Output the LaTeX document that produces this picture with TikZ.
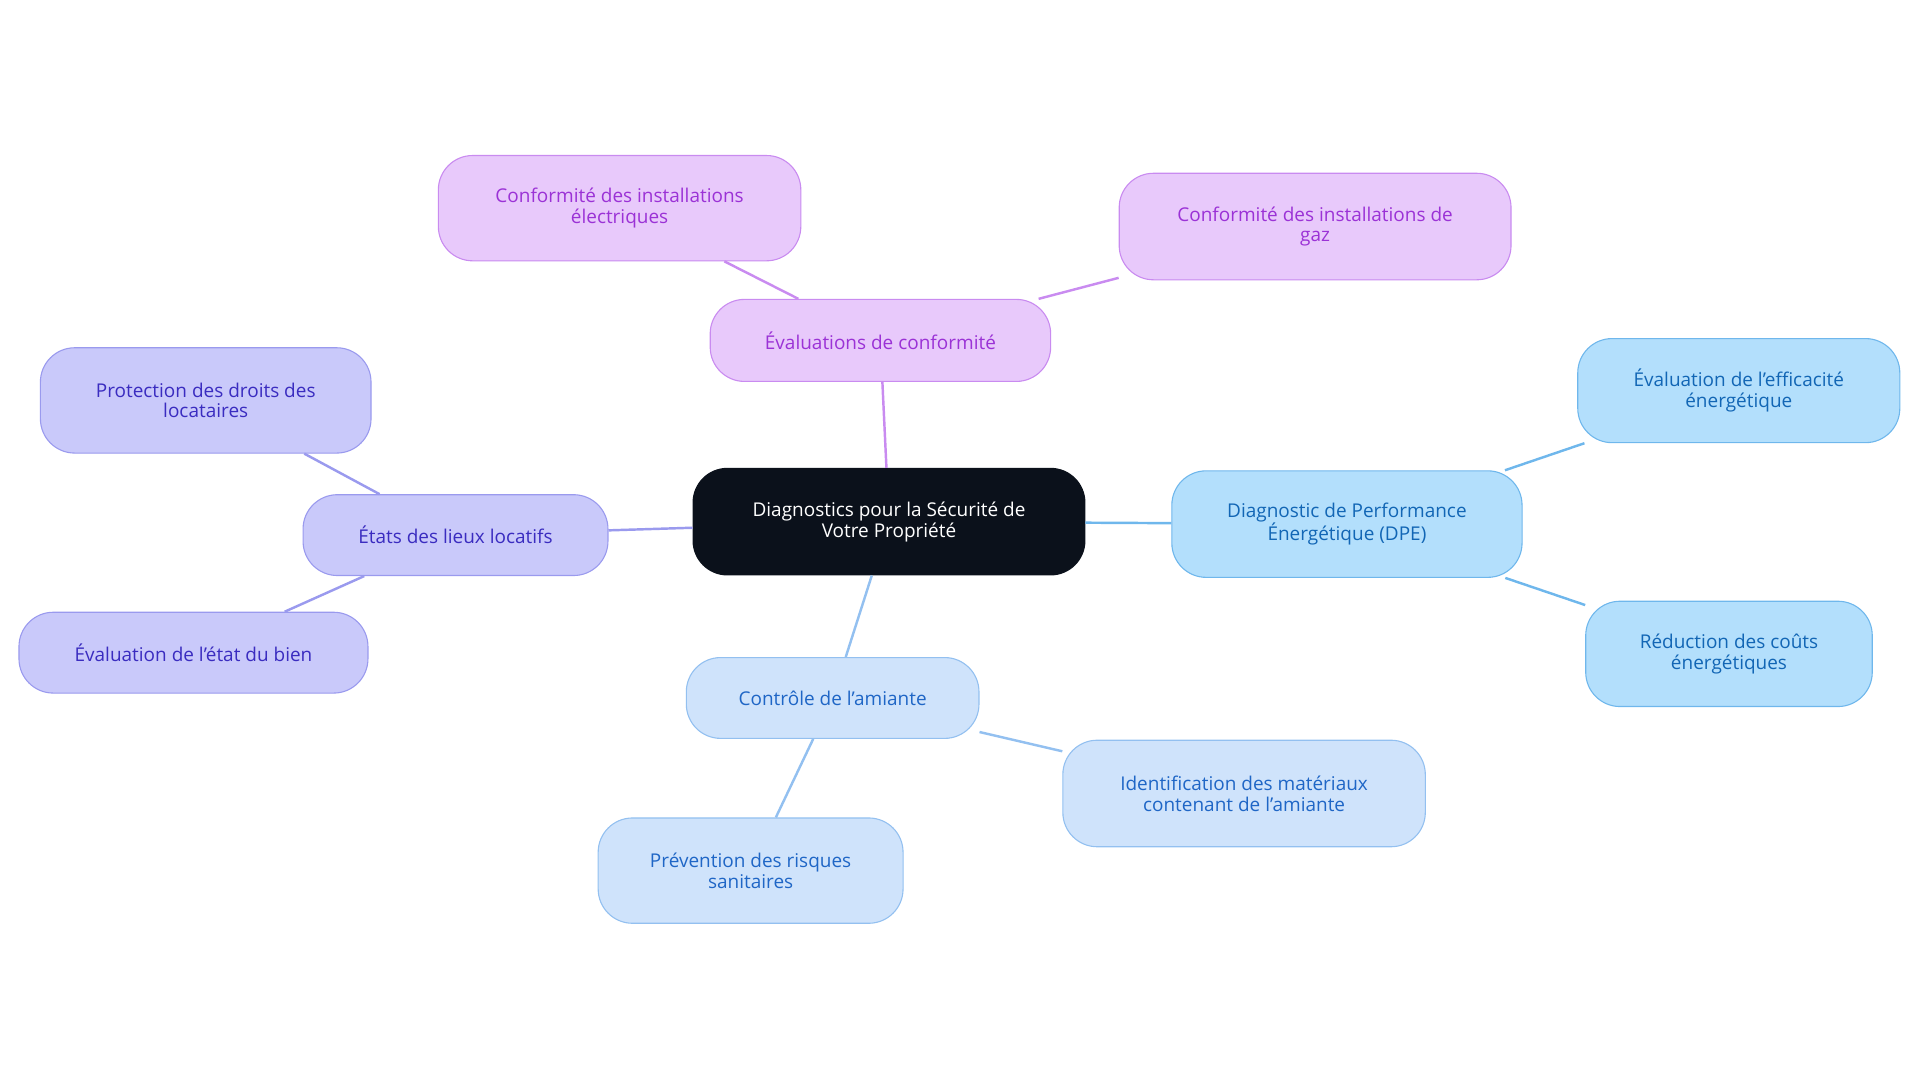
\documentclass[tikz,border=0pt]{standalone}
\usepackage{fontspec}
\setmainfont{Open Sans}
\definecolor{pf}{HTML}{E8C9FB}\definecolor{pd}{HTML}{C98BF0}\definecolor{pt}{HTML}{9B32D6}
\definecolor{bf}{HTML}{B3DFFC}\definecolor{bd}{HTML}{6FB7EC}\definecolor{bt}{HTML}{1266B5}
\definecolor{lf}{HTML}{CFE3FB}\definecolor{ld}{HTML}{93C0F0}\definecolor{lt}{HTML}{1F66C6}
\definecolor{vf}{HTML}{C9C9FA}\definecolor{vd}{HTML}{9A9AEE}\definecolor{vt}{HTML}{3A2CC0}
\definecolor{cf}{HTML}{0B111B}
\begin{document}
\begin{tikzpicture}[x=1pt,y=-1pt,
 box/.style={rounded corners=28pt,minimum width=#1,align=center,font=\fontsize{15.5}{17}\selectfont,line width=0.9pt,inner sep=0pt},
 pb/.style={box=#1,fill=pf,draw=pd,text=pt},
 bb/.style={box=#1,fill=bf,draw=bd,text=bt},
 lb/.style={box=#1,fill=lf,draw=ld,text=lt},
 vb/.style={box=#1,fill=vf,draw=vd,text=vt},
 e/.style={line width=2pt}]
\useasboundingbox (0,0) rectangle (1568,884);
\node[box=320pt,minimum height=87pt,fill=cf,draw=cf,text=white] (c) at (726,426) {Diagnostics pour la Sécurité de\\Votre Propriété};
\node[pb=278pt,minimum height=67pt] (p) at (719,278) {Évaluations de conformité};
\node[pb=296pt,minimum height=86pt] (p1) at (506,170) {Conformité des installations\\électriques};
\node[pb=320pt,minimum height=87pt] (p2) at (1074,185) {Conformité des installations de\\gaz};
\node[bb=286pt,minimum height=87pt] (b) at (1100,428) {Diagnostic de Performance\\Énergétique (DPE)};
\node[bb=263pt,minimum height=85pt] (b1) at (1420,319) {Évaluation de l’efficacité\\énergétique};
\node[bb=234pt,minimum height=86pt] (b2) at (1412,534) {Réduction des coûts\\énergétiques};
\node[lb=239pt,minimum height=66pt] (l) at (680,570) {Contrôle de l’amiante};
\node[lb=296pt,minimum height=87pt] (l1) at (1016,648) {Identification des matériaux\\contenant de l’amiante};
\node[lb=249pt,minimum height=86pt] (l2) at (613,711) {Prévention des risques\\sanitaires};
\node[vb=249pt,minimum height=66pt] (v) at (372,437) {États des lieux locatifs};
\node[vb=270pt,minimum height=86pt] (v1) at (168,327) {Protection des droits des\\locataires};
\node[vb=285pt,minimum height=66pt] (v2) at (158,533) {Évaluation de l’état du bien};
\draw[e,draw=pd] (c)--(p) (p)--(p1) (p)--(p2);
\draw[e,draw=bd] (c)--(b) (b)--(b1) (b)--(b2);
\draw[e,draw=ld] (c)--(l) (l)--(l1) (l)--(l2);
\draw[e,draw=vd] (c)--(v) (v)--(v1) (v)--(v2);
\end{tikzpicture}
\end{document}
